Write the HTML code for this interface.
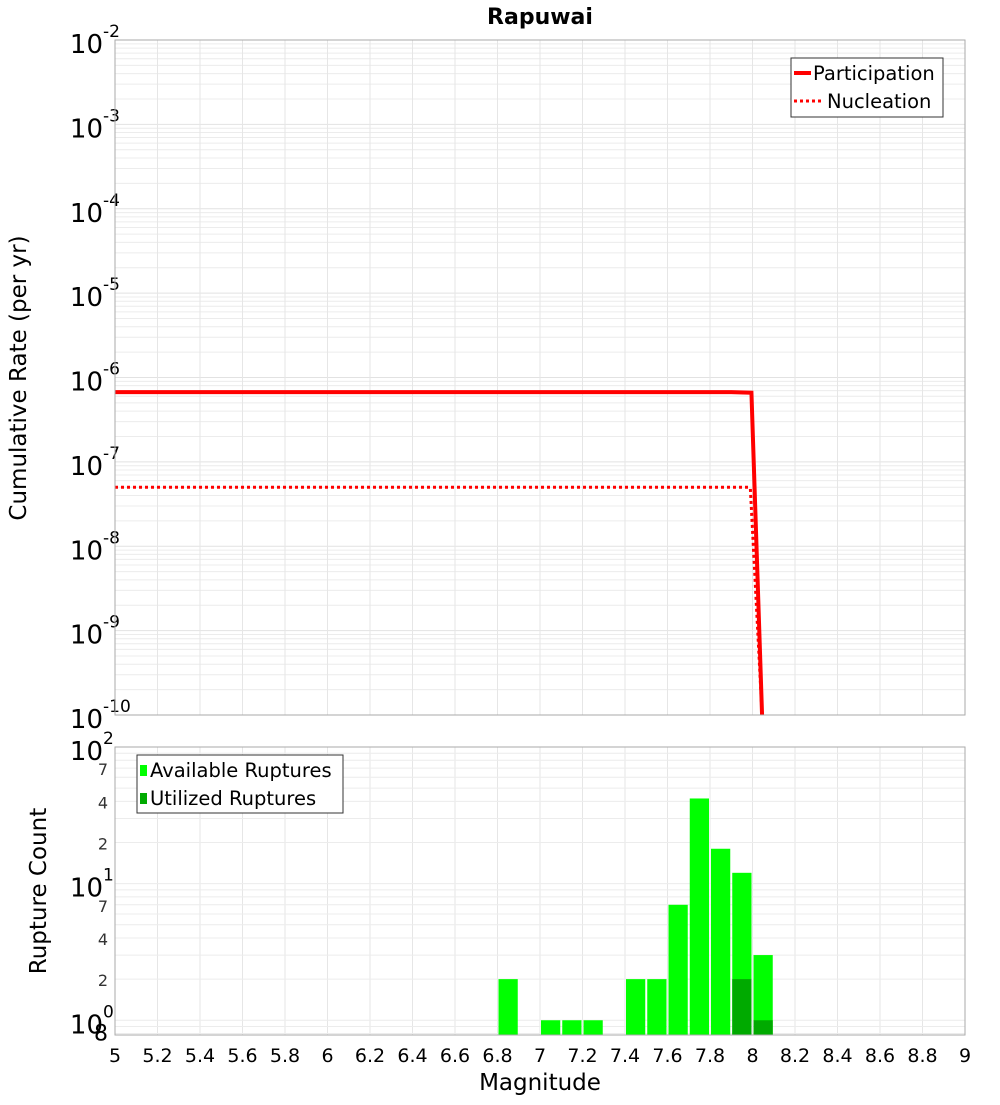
<!DOCTYPE html>
<html><head><meta charset="utf-8"><style>
body{margin:0;background:#fff;font-family:"Liberation Sans","DejaVu Sans",sans-serif;}
svg text{font-family:"DejaVu Sans","Liberation Sans",sans-serif;}
</style></head><body>
<svg id="c" width="1000" height="1100" xmlns="http://www.w3.org/2000/svg">
<text x="540" y="24" text-anchor="middle" font-size="22" font-weight="bold">Rapuwai</text>
<text transform="translate(26,378) rotate(-90)" text-anchor="middle" font-size="23">Cumulative Rate (per yr)</text>
<text transform="translate(46,891) rotate(-90)" text-anchor="middle" font-size="23">Rupture Count</text>
<text x="540" y="1090" text-anchor="middle" font-size="23">Magnitude</text>
<g id="g"></g>
</svg>
<script>
const partM=[5.0,7.9,7.995,8.045];
const partR=[6.7e-7,6.7e-7,6.6e-7,1e-10];
const nuclM=[5.0,7.98,7.99,8.045];
const nuclR=[5.0e-8,5.0e-8,4.8e-8,1e-10];
const binM=[6.8,7.0,7.1,7.2,7.4,7.5,7.6,7.7,7.8,7.9,8.0];
const availCount=[2,1,1,1,2,2,7,42,18,12,3];
const usedM=[7.9,8.0];
const usedCount=[2,1];
const xTicks=[5,5.2,5.4,5.6,5.8,6,6.2,6.4,6.6,6.8,7,7.2,7.4,7.6,7.8,8,8.2,8.4,8.6,8.8,9];

const NS='http://www.w3.org/2000/svg';
const g=document.getElementById('g');
function mk(t,a,p){const e=document.createElementNS(NS,t);for(const k in a)e.setAttribute(k,a[k]);(p||g).appendChild(e);return e;}
const X0=115,X1=965;
const x=m=>X0+(m-5)/4*(X1-X0);
const T0=40,T1=715;
const yT=v=>T0+(-2-Math.log10(v))/8*(T1-T0);
const B0=747,B1=1035,Bmin=Math.log10(0.78);
const yB=v=>B0+(2-Math.log10(v))/(2-Bmin)*(B1-B0);

for(let d=-10;d<-2;d++)for(let k=1;k<10;k++){const yy=yT(k*Math.pow(10,d));
 const l=mk('line',{x1:X0,x2:X1,y1:yy,y2:yy,stroke:k==1?'#e2e2e2':'#ececec','stroke-width':1});
 }
for(const t of xTicks){
 const l=mk('line',{x1:x(t),x2:x(t),y1:T0,y2:T1,stroke:'#e6e6e6'});
 
 const l2=mk('line',{x1:x(t),x2:x(t),y1:B0,y2:B1,stroke:'#e6e6e6'});
 
 const tx=mk('text',{x:x(t),y:1062,'text-anchor':'middle','font-size':19});tx.textContent=String(t);
 }
for(let d=-10;d<=-2;d++){const yy=yT(Math.pow(10,d));
 const t=mk('text',{x:103,y:yy+13,'text-anchor':'end','font-size':26});t.textContent='10';
 
 const s=mk('text',{x:103,y:yy-3,'font-size':17});s.textContent=String(d);
 }
for(let d=-1;d<2;d++)for(let k=1;k<10;k++){const v=k*Math.pow(10,d);if(v<0.78)continue;const yy=yB(v);
 const l=mk('line',{x1:X0,x2:X1,y1:yy,y2:yy,stroke:'#ececec'});
 
 if(k==1){const t=mk('text',{x:103,y:yy+13,'text-anchor':'end','font-size':26});t.textContent='10';
  
  const s=mk('text',{x:103,y:yy-3,'font-size':17});s.textContent=String(d);
  }
 else if(k==2||k==4||k==7||(k==8&&d==-1)){const t=mk('text',{x:108,y:yy+7,'text-anchor':'end','font-size':k==8?22:16,fill:k==8?'#000':'#333'});t.textContent=String(k);
  }}
{const yy=yB(100);const t=mk('text',{x:103,y:yy+13,'text-anchor':'end','font-size':26});t.textContent='10';
 
 const s=mk('text',{x:103,y:yy-3,'font-size':17});s.textContent='2';
 }
binM.forEach((m,i)=>{const r=mk('rect',{x:x(m)+1,y:yB(availCount[i]),width:x(m+0.1)-x(m)-2,height:B1-yB(availCount[i]),fill:'#00ff00'});
 });
usedM.forEach((m,i)=>{const r=mk('rect',{x:x(m)+1,y:yB(usedCount[i]),width:x(m+0.1)-x(m)-2,height:B1-yB(usedCount[i]),fill:'#00aa00'});
 });
const cp=mk('clipPath',{id:'cl'});mk('rect',{x:X0,y:T0,width:X1-X0,height:T1-T0+6},cp);
const pl=mk('polyline',{points:partM.map((m,i)=>x(m)+','+yT(partR[i])).join(' '),fill:'none',stroke:'#ff0000','stroke-width':4,'clip-path':'url(#cl)'});

const nl=mk('polyline',{points:nuclM.map((m,i)=>x(m)+','+yT(nuclR[i])).join(' '),fill:'none',stroke:'#ff0000','stroke-width':3,'stroke-dasharray':'3,3','clip-path':'url(#cl)'});

let f=mk('rect',{x:X0,y:T0,width:X1-X0,height:T1-T0,fill:'none',stroke:'#aaa'});
f=mk('rect',{x:X0,y:B0,width:X1-X0,height:B1-B0,fill:'none',stroke:'#aaa'});
let lg=mk('g',{});
mk('rect',{x:791,y:58,width:152,height:59,fill:'#fff',stroke:'#333'},lg);
mk('line',{x1:794,x2:811,y1:73,y2:73,stroke:'#f00','stroke-width':4},lg);
mk('line',{x1:794,x2:821,y1:101,y2:101,stroke:'#f00','stroke-width':3,'stroke-dasharray':'3,3'},lg);
let t=mk('text',{x:813,y:80,'font-size':19.5},lg);t.textContent='Participation';
t=mk('text',{x:827,y:108,'font-size':19.5},lg);t.textContent='Nucleation';
lg=mk('g',{});
mk('rect',{x:137,y:755,width:206,height:58,fill:'#fff',stroke:'#333'},lg);
mk('rect',{x:140,y:765,width:7,height:11,fill:'#00ff00'},lg);
mk('rect',{x:140,y:793,width:7,height:11,fill:'#00aa00'},lg);
t=mk('text',{x:150,y:777,'font-size':19.5},lg);t.textContent='Available Ruptures';
t=mk('text',{x:150,y:805,'font-size':19.5},lg);t.textContent='Utilized Ruptures';
</script>
</body></html>
